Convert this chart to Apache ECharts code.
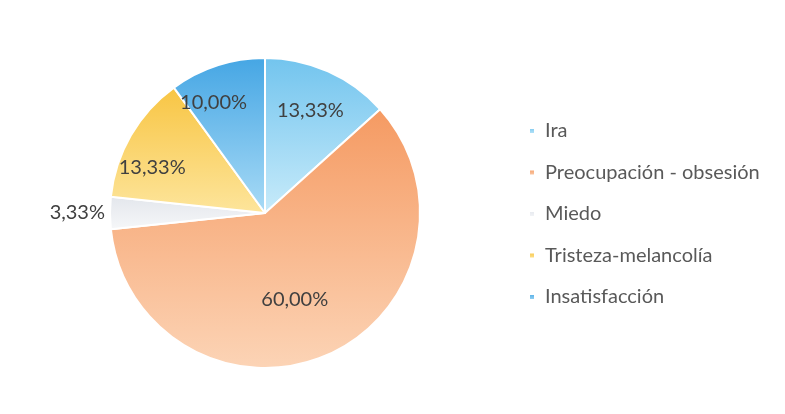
<!DOCTYPE html>
<html>
<head>
<meta charset="utf-8">
<script src="https://cdn.jsdelivr.net/npm/echarts@6/dist/echarts.min.js"></script>
<style>
  html, body { margin: 0; padding: 0; background: #ffffff; }
  #chart { width: 785px; height: 414px; }
</style>
</head>
<body>
<div id="chart"></div>
<script>
// Emotion categories and their shares (%)
const categories = ['Ira', 'Preocupación - obsesión', 'Miedo', 'Tristeza-melancolía', 'Insatisfacción'];
const values = [13.33, 60.00, 3.33, 13.33, 10.00];

// Fill gradients per slice: [top colour, bottom colour]
const sliceColors = [
  ['#72c4ee', '#c8ebfa'],
  ['#f59a62', '#fcd4b6'],
  ['#e3e6ec', '#f6f7f9'],
  ['#f8c543', '#fde59c'],
  ['#45a6e4', '#a9dbf6']
];
// Inside-label placement: distance from centre (fraction of radius)
// and a small angular nudge (degrees, clockwise) away from the slice middle
const labelRadius = [0.72, 0.59, null, 0.785, 0.785];
const labelNudge = [0, 5, 0, -8, -7];

const CX = 265, CY = 213, R = 155;

function grad(c) {
  return new echarts.graphic.LinearGradient(0, 0, 0, 1, [
    { offset: 0, color: c[0] },
    { offset: 1, color: c[1] }
  ]);
}

const data = categories.map((name, i) => {
  const item = {
    name: name,
    value: values[i],
    itemStyle: { color: grad(sliceColors[i]) }
  };
  if (labelRadius[i] === null) {
    item.label = { position: 'outside' };
    item.labelLine = { show: false, length: 0, length2: 0 };
  }
  return item;
});

const chart = echarts.init(document.getElementById('chart'), null, { renderer: 'canvas' });
chart.setOption({
  backgroundColor: '#ffffff',
  animation: false,
  legend: {
    orient: 'vertical',
    left: 528,
    top: 121,
    padding: 0,
    icon: 'rect',
    itemWidth: 6,
    itemHeight: 6,
    itemGap: 21.5,
    data: categories,
    textStyle: {
      fontFamily: 'Lato',
      fontSize: 20,
      color: '#595959',
      padding: [0, 0, 0, 5]
    }
  },
  series: [{
    type: 'pie',
    center: [CX, CY],
    radius: [0, R],
    startAngle: 90,
    clockwise: true,
    data: data,
    itemStyle: { borderColor: '#ffffff', borderWidth: 2 },
    label: {
      show: true,
      position: 'inside',
      fontFamily: 'Lato',
      fontSize: 20,
      color: '#404040',
      formatter: p => p.value.toFixed(2).replace('.', ',') + '%'
    },
    labelLine: { show: false },
    emphasis: { disabled: true },
    labelLayout: function (params) {
      const i = params.dataIndex;
      const k = labelRadius[i];
      if (k === null) return {};
      const lr = params.labelRect;
      const dx = lr.x + lr.width / 2 - CX;
      const dy = lr.y + lr.height / 2 - CY;
      const a = Math.atan2(dx, -dy) + labelNudge[i] * Math.PI / 180;
      return { x: CX + Math.sin(a) * k * R, y: CY - Math.cos(a) * k * R };
    }
  }]
});
</script>
</body>
</html>
